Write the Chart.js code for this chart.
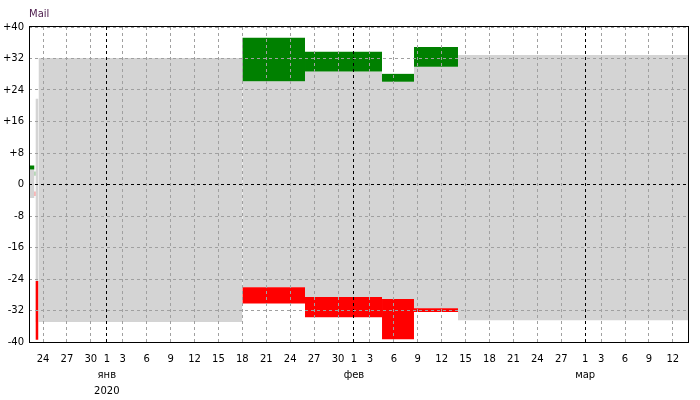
<!DOCTYPE html>
<html>
<head>
<meta charset="utf-8">
<script src="https://cdn.jsdelivr.net/npm/chart.js@4/dist/chart.umd.min.js"></script>
<style>
  html, body { margin: 0; padding: 0; background: #fff; }
  #wrap { width: 700px; height: 400px; position: relative; }
</style>
</head>
<body>
<div id="wrap"><canvas id="c" width="700" height="400"></canvas></div>
<script>
// ---- Data (x in days relative to 1 Jan 2020) ----
const chartTitle = 'Mail';
const xMin = -9.76;
const xMax = 72.9;
const segStart = [-9.76, -9.07, -8.95, -8.57, 17, 24.86, 34.52, 38.53, 44.05];
const segEnd   = [-9.07, -8.95, -8.57, 17, 24.86, 34.52, 38.53, 44.05, 72.9];
const grayTop  = [3.8, null, 21.8, 32.1, 26.2, 28.7, 26.1, 29.9, 32.9];
const grayBot  = [-3.4, null, -34.9, -34.9, -26.1, -28.6, -29.1, -31.4, -34.5];
const greenTop = [4.8, 3.3, null, null, 37.3, 33.7, 28.1, 34.9, null];
const greenBot = [3.8, 2.2, null, null, 26.2, 28.7, 26.1, 29.9, null];
const redTop   = [null, -1.8, -24.5, null, -26.1, -28.6, -29.1, -31.4, null];
const redBot   = [null, -2.9, -39.4, null, -30.2, -33.7, -39.3, -32.4, null];

const tickDays   = [-8, -5, -2, 0, 2, 5, 8, 11, 14, 17, 20, 23, 26, 29, 31, 33, 36, 39, 42, 45, 48, 51, 54, 57, 60, 62, 65, 68, 71];
const tickLabels = ['24', '27', '30', ['1', 'янв', '2020'], '3', '6', '9', '12', '15', '18', '21', '24', '27', '30',
                    ['1', 'фев'], '3', '6', '9', '12', '15', '18', '21', '24', '27', ['1', 'мар'], '3', '6', '9', '12'];
const monthStarts = [0, 31, 60];

// ---- Build rectangle datasets ----
function rects(tops, bots, color, order) {
  const out = [];
  for (let i = 0; i < segStart.length; i++) {
    if (tops[i] === null || bots[i] === null) continue;
    out.push({
      type: 'line',
      data: [{ x: segStart[i], y: tops[i] }, { x: segEnd[i], y: tops[i] }],
      fill: { value: bots[i] },
      backgroundColor: color,
      borderColor: 'rgba(0,0,0,0)',
      borderWidth: 0,
      pointRadius: 0,
      tension: 0,
      order: order
    });
  }
  return out;
}
const datasets = [].concat(
  rects(greenTop, greenBot, '#008000', 1),
  rects(redTop, redBot, '#ff0000', 1),
  rects(grayTop, grayBot, '#d4d4d4', 2)
);

const FONT = 'DejaVu Sans';

const boxPlugin = {
  id: 'boxAndTitle',
  afterDraw(chart) {
    const { ctx, chartArea: a } = chart;
    ctx.save();
    ctx.strokeStyle = '#000';
    ctx.lineWidth = 1;
    ctx.strokeRect(Math.round(a.left) + 0.5, Math.round(a.top) - 0.5, Math.round(a.right - a.left), Math.round(a.bottom - a.top) + 1);
    ctx.fillStyle = '#502050';
    ctx.font = '10px "' + FONT + '"';
    ctx.textBaseline = 'middle';
    ctx.textAlign = 'left';
    ctx.fillText(chartTitle, 29, 14.5);
    ctx.restore();
  }
};

new Chart(document.getElementById('c'), {
  type: 'line',
  data: { datasets },
  plugins: [boxPlugin],
  options: {
    responsive: false,
    animation: false,
    layout: { padding: { top: 27, right: 12, left: 0, bottom: 0 } },
    plugins: { legend: { display: false }, tooltip: { enabled: false }, title: { display: false } },
    scales: {
      x: {
        type: 'linear',
        min: xMin,
        max: xMax,
        afterBuildTicks(scale) { scale.ticks = tickDays.map(v => ({ value: v })); },
        afterFit(scale) { scale.height = 58; },
        ticks: {
          autoSkip: false,
          maxRotation: 0,
          padding: 9,
          color: '#000',
          font: { family: FONT, size: 10, lineHeight: '16px' },
          callback(value) {
            const i = tickDays.indexOf(value);
            return i >= 0 ? tickLabels[i] : '';
          }
        },
        grid: {
          z: 1,
          drawTicks: false,
          lineWidth: 1,
          color: ctx => (ctx.tick && monthStarts.includes(ctx.tick.value)) ? '#000' : '#a0a0a0'
        },
        border: { display: false, dash: [3, 3] }
      },
      y: {
        type: 'linear',
        min: -40,
        max: 40,
        afterFit(scale) { scale.width = 29; },
        ticks: {
          stepSize: 8,
          padding: 5,
          color: '#000',
          font: { family: FONT, size: 10 },
          callback(v) { return v > 0 ? '+' + v : '' + v; }
        },
        grid: {
          z: 1,
          drawTicks: false,
          lineWidth: 1,
          color: ctx => (ctx.tick && ctx.tick.value === 0) ? '#000' : '#a0a0a0'
        },
        border: { display: false, dash: [3, 3] }
      }
    }
  }
});
</script>
</body>
</html>
